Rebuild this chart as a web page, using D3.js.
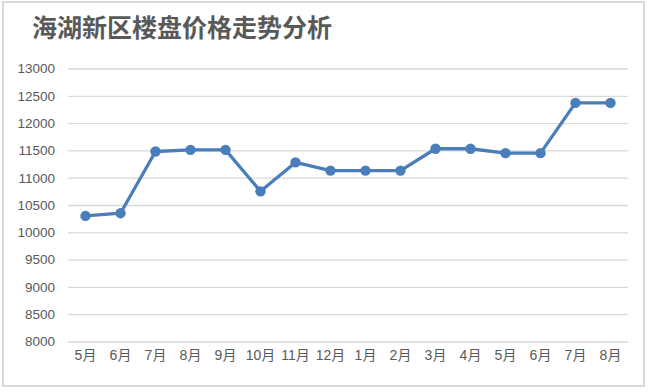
<!DOCTYPE html>
<html>
<head>
<meta charset="utf-8">
<script src="https://cdn.jsdelivr.net/npm/d3@7"></script>
<style>
  body { margin: 0; background: #fff; }
  text { font-family: "Liberation Sans", Arial, sans-serif; }
</style>
</head>
<body>
<div id="chart"></div>
<script>
const months = ["5月", "6月", "7月", "8月", "9月", "10月", "11月", "12月", "1月", "2月", "3月", "4月", "5月", "6月", "7月", "8月"];
const prices = [10300, 10350, 11480, 11510, 11510, 10750, 11280, 11130, 11130, 11130, 11530, 11530, 11450, 11450, 12370, 12370];
const yTicks = [8000, 8500, 9000, 9500, 10000, 10500, 11000, 11500, 12000, 12500, 13000];

const width = 650, height = 392;
const margin = { top: 68.5, right: 22, bottom: 50.5, left: 68 };

const svg = d3.select("#chart").append("svg")
  .attr("width", width)
  .attr("height", height);

// chart frame
svg.append("rect")
  .attr("x", 3).attr("y", 2)
  .attr("width", 641).attr("height", 384)
  .attr("fill", "#fff")
  .attr("stroke", "#d9d9d9")
  .attr("stroke-width", 2);

svg.append("text")
  .attr("x", 32).attr("y", 37)
  .style("font-family", "'Noto Sans CJK SC', sans-serif")
  .style("font-size", "25px")
  .style("font-weight", "bold")
  .attr("fill", "#595959")
  .text("海湖新区楼盘价格走势分析");

const innerW = width - margin.left - margin.right;
const innerH = height - margin.top - margin.bottom;

const x = d3.scaleBand().domain(d3.range(months.length)).range([0, innerW]);
const y = d3.scaleLinear().domain([8000, 13000]).range([innerH, 0]);

const g = svg.append("g")
  .attr("transform", "translate(" + margin.left + "," + margin.top + ")");

// gridlines + y labels
const yAxis = g.append("g")
  .call(d3.axisLeft(y).tickValues(yTicks).tickFormat(d3.format("d")).tickSize(-innerW).tickPadding(13));
yAxis.select(".domain").remove();
yAxis.selectAll("line").attr("stroke", "#d9d9d9").attr("stroke-width", 1.3);
yAxis.selectAll("text")
  .attr("fill", "#595959")
  .style("font-size", "13.5px")
  .style("font-family", "'Liberation Sans', Arial, sans-serif");

// x labels
const xAxis = g.append("g")
  .attr("transform", "translate(0," + innerH + ")")
  .call(d3.axisBottom(x).tickFormat(i => months[i]).tickSize(0).tickPadding(9));
xAxis.select(".domain").remove();
xAxis.selectAll("text")
  .attr("fill", "#595959")
  .style("font-size", "14px")
  .style("font-family", "'Liberation Sans', 'Noto Sans CJK SC', sans-serif");

const cx = i => x(i) + x.bandwidth() / 2;

g.append("path")
  .datum(prices)
  .attr("fill", "none")
  .attr("stroke", "#4a7ebb")
  .attr("stroke-width", 3.3)
  .attr("stroke-linejoin", "round")
  .attr("d", d3.line().x((d, i) => cx(i)).y(d => y(d)));

g.selectAll(".dot")
  .data(prices)
  .enter().append("circle")
  .attr("class", "dot")
  .attr("cx", (d, i) => cx(i))
  .attr("cy", d => y(d))
  .attr("r", 5.2)
  .attr("fill", "#4a7ebb");
</script>
</body>
</html>
